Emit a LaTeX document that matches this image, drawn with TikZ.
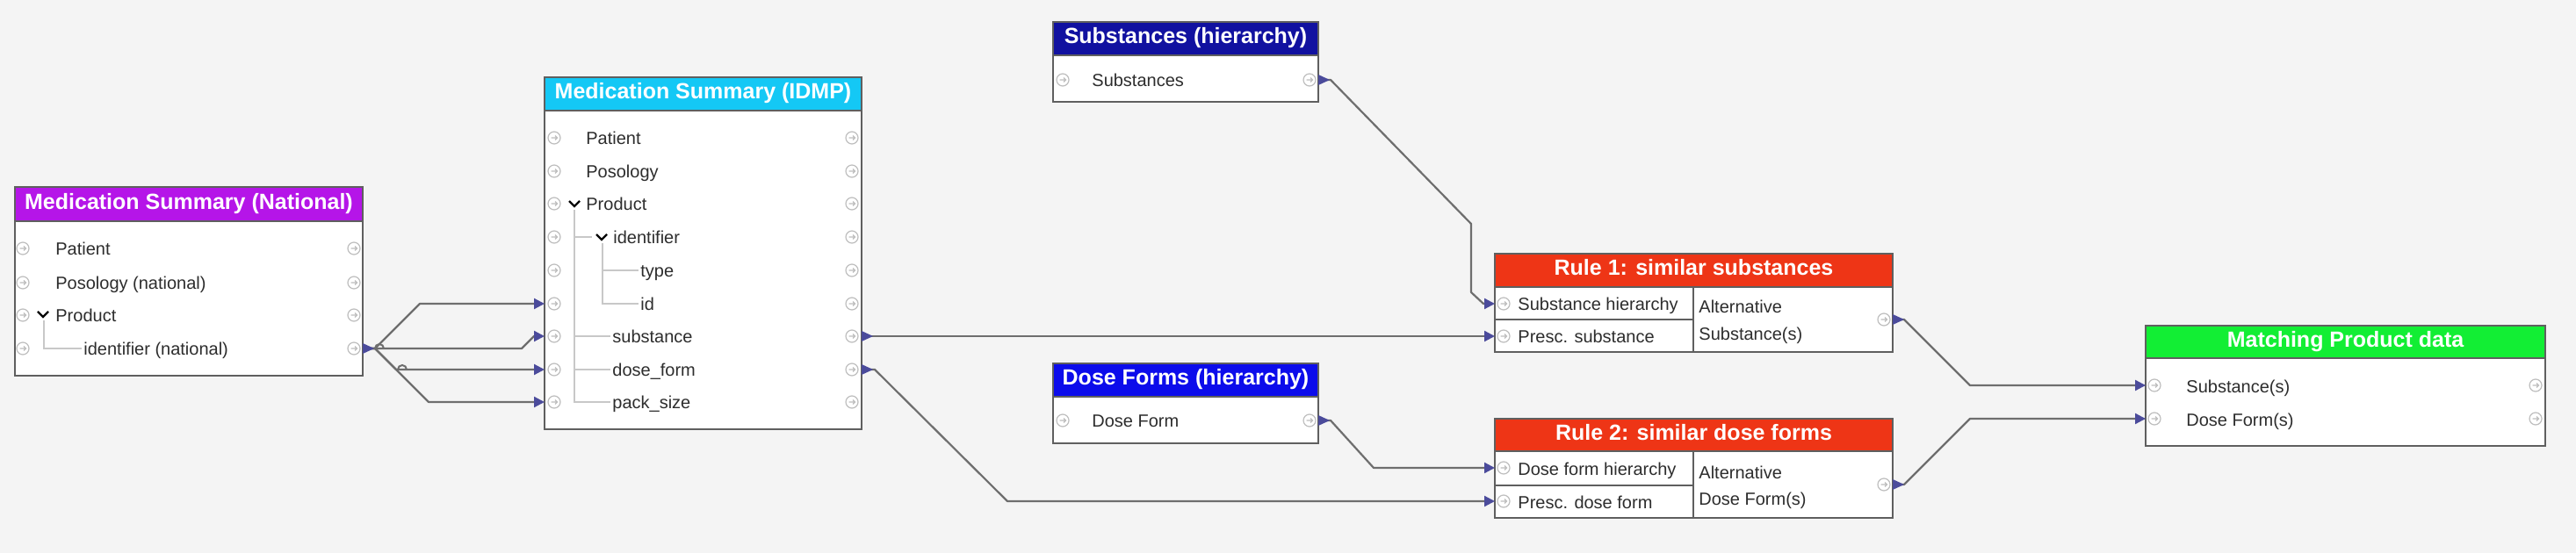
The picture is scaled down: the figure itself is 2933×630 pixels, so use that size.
\documentclass[tikz,border=0pt]{standalone}
\usepackage{fontspec}
\setmainfont{Liberation Sans}
\usetikzlibrary{arrows.meta,fit,calc}
\definecolor{bgc}{RGB}{244,244,244}
\definecolor{bordc}{RGB}{95,95,95}
\definecolor{natc}{RGB}{181,21,232}
\definecolor{idmpc}{RGB}{20,200,245}
\definecolor{substc}{RGB}{17,17,160}
\definecolor{dosec}{RGB}{12,12,235}
\definecolor{rulec}{RGB}{238,53,22}
\definecolor{matchc}{RGB}{18,238,52}
\definecolor{linec}{RGB}{110,110,110}
\definecolor{arrc}{RGB}{75,75,155}
\definecolor{pgray}{RGB}{190,190,190}
\definecolor{treec}{RGB}{200,200,200}
\definecolor{txtc}{RGB}{45,45,45}
\newcommand\mkrow[4]{\node[rowtxt] (#1) at (#2,#3+8) {#4};}
\newcommand\mkport[2]{\pic at (#1,#2) {portglyph};}
\newcommand\mkchev[2]{\draw[black, line width=1.1pt] (#1-6,#2-3) -- (#1,#2+3) -- (#1+6,#2-3);}
\newcommand\mkhead[4]{\node[headbox, fill=#2, fit={#3}] (#1) {};
  \node[headtxt] (#1T) at (#1.center) {#4};}
\begin{document}
\begin{tikzpicture}[x=0.5pt,y=-0.5pt,
  box/.style={draw=bordc, line width=1pt, fill=white, inner sep=0pt},
  headbox/.style={draw=bordc, line width=1pt, inner sep=0pt},
  headtxt/.style={anchor=center, inner sep=0pt, text=white, text height=9pt, text depth=2.5pt, yshift=0.3pt, font=\fontsize{12.5}{14}\selectfont\bfseries},
  rowtxt/.style={anchor=base west, inner sep=0pt, text=txtc, font=\fontsize{10}{12}\selectfont},
  bord/.style={draw=bordc, line width=1pt},
  tree/.style={draw=treec, line width=0.6pt},
  conn/.style={draw=linec, line width=1.1pt, line join=round, -{Triangle[length=6pt,width=6pt,color=arrc,fill=arrc]}},
  hop/.style={draw=linec, line width=1pt},
  portglyph/.pic={\draw[pgray, line width=0.6pt, fill=white] (0,0) circle[radius=3.5pt];
                  \draw[pgray, line width=0.6pt] (-3.5,0) -- (3.5,0) (1,-2.5) -- (3.5,0) -- (1,2.5);},
  srctri/.pic={\fill[arrc] (0,-6) -- (13,0) -- (0,6) -- cycle;}
]
\useasboundingbox (0,0) rectangle (2933,630);
\fill[bgc] (0,0) rectangle (2933,630);

% ---------- Medication Summary (National)
\node[box, fit={(17,213) (413,428)}] (nat) {};
\mkhead{natH}{natc}{(17,213) (413,252)}{Medication Summary (National)}
\mkrow{natR1}{63}{283}{Patient}
\mkrow{natR2}{63}{322}{Posology (national)}
\mkrow{natR3}{63}{359}{Product}
\mkrow{natR4}{95}{397}{identifier (national)}
\mkchev{49}{358}
\draw[tree] (50,365) -- (50,397) -- (93,397);
\foreach \yy in {283,322,359,397} {\mkport{26}{\yy}\mkport{403}{\yy}}

% ---------- Medication Summary (IDMP)
\node[box, fit={(620,88) (981,489)}] (idmp) {};
\mkhead{idmpH}{idmpc}{(620,88) (981,126)}{Medication Summary (IDMP)}
\mkrow{idmpR1}{667}{157}{Patient}
\mkrow{idmpR2}{667}{195}{Posology}
\mkrow{idmpR3}{667}{232}{Product}
\mkrow{idmpR4}{698}{270}{identifier}
\mkrow{idmpR5}{729}{308}{type}
\mkrow{idmpR6}{729}{346}{id}
\mkrow{idmpR7}{697}{383}{substance}
\mkrow{idmpR8}{697}{421}{dose\_form}
\mkrow{idmpR9}{697}{458}{pack\_size}
\mkchev{654}{232}
\mkchev{685}{270}
\draw[tree] (654,239) -- (654,458) -- (695,458) (654,383) -- (695,383) (654,421) -- (695,421) (654,270) -- (674,270);
\draw[tree] (686,277) -- (686,346) -- (727,346) (686,308) -- (727,308);
\foreach \yy in {157,195,232,270,308,346,383,421,458} {\mkport{631}{\yy}\mkport{970}{\yy}}

% ---------- Substances (hierarchy)
\node[box, fit={(1199,25) (1501,116)}] (subst) {};
\mkhead{substH}{substc}{(1199,25) (1501,63)}{Substances (hierarchy)}
\mkrow{substR1}{1243}{91}{Substances}
\mkport{1210}{91}\mkport{1491}{91}

% ---------- Dose Forms (hierarchy)
\node[box, fit={(1199,414) (1501,505)}] (dose) {};
\mkhead{doseH}{dosec}{(1199,414) (1501,452)}{Dose Forms (hierarchy)}
\mkrow{doseR1}{1243}{479}{Dose Form}
\mkport{1210}{479}\mkport{1491}{479}

% ---------- Rule 1
\node[box, fit={(1702,289) (2155,401)}] (r1) {};
\mkhead{r1H}{rulec}{(1702,289) (2155,327)}{Rule 1: similar substances}
\draw[bord] (1928,327) -- (1928,401) (1702,364) -- (1928,364);
\mkrow{r1R1}{1728}{346}{Substance hierarchy}
\mkrow{r1R2}{1728}{383}{Presc. substance}
\mkrow{r1O1}{1934}{349}{Alternative}
\mkrow{r1O2}{1934}{380}{Substance(s)}
\mkport{1712}{346}\mkport{1712}{383}\mkport{2145}{364}

% ---------- Rule 2
\node[box, fit={(1702,477) (2155,590)}] (r2) {};
\mkhead{r2H}{rulec}{(1702,477) (2155,514)}{Rule 2: similar dose forms}
\draw[bord] (1928,514) -- (1928,590) (1702,553) -- (1928,553);
\mkrow{r2R1}{1728}{533}{Dose form hierarchy}
\mkrow{r2R2}{1728}{571}{Presc. dose form}
\mkrow{r2O1}{1934}{537}{Alternative}
\mkrow{r2O2}{1934}{567}{Dose Form(s)}
\mkport{1712}{533}\mkport{1712}{571}\mkport{2145}{552}

% ---------- Matching Product data
\node[box, fit={(2443,371) (2898,508)}] (match) {};
\mkhead{matchH}{matchc}{(2443,371) (2898,408)}{Matching Product data}
\mkrow{matchR1}{2489}{439}{Substance(s)}
\mkrow{matchR2}{2489}{477}{Dose Form(s)}
\mkport{2453}{439}\mkport{2453}{477}\mkport{2887}{439}\mkport{2887}{477}

% ---------- ports for connectors
\coordinate (natIdOut) at (413,397);
\coordinate (idmpIdIn) at (620,346);
\coordinate (idmpSubIn) at (620,383);
\coordinate (idmpDfIn) at (620,421);
\coordinate (idmpPsIn) at (620,458);
\coordinate (idmpSubOut) at (981,383);
\coordinate (idmpDfOut) at (981,421);
\coordinate (substOut) at (1501,91);
\coordinate (doseOut) at (1501,479);
\coordinate (r1In1) at (1702,346);
\coordinate (r1In2) at (1702,383);
\coordinate (r1Out) at (2155,364);
\coordinate (r2In1) at (1702,533);
\coordinate (r2In2) at (1702,571);
\coordinate (r2Out) at (2155,552);
\coordinate (mIn1) at (2443,439);
\coordinate (mIn2) at (2443,477);

% ---------- connectors
\draw[conn] (natIdOut) -- ++(14,0) -- (478,346) -- (idmpIdIn);
\draw[conn] (natIdOut) -- (594,397) -- (608,383) -- (idmpSubIn);
\draw[conn] (natIdOut) -- ++(14,0) -- (451,421) -- (idmpDfIn);
\draw[conn] (natIdOut) -- ++(14,0) -- (488,458) -- (idmpPsIn);
\draw[hop] (427,397) arc[start angle=180, end angle=0, radius=2.5pt];
\draw[hop] (453,421) arc[start angle=180, end angle=0, radius=2.5pt];
\draw[conn] (idmpSubOut) -- (r1In2);
\draw[conn] (idmpDfOut) -- ++(15,0) -- (1147,571) -- (r2In2);
\draw[conn] (substOut) -- ++(14,0) -- (1675,255) -- (1675,333) -- (1689,346) -- (r1In1);
\draw[conn] (doseOut) -- ++(14,0) -- (1564,533) -- (r2In1);
\draw[conn] (r1Out) -- ++(13,0) -- (2243,439) -- (mIn1);
\draw[conn] (r2Out) -- ++(13,0) -- (2243,477) -- (mIn2);
\foreach \p in {natIdOut,idmpSubOut,idmpDfOut,substOut,doseOut,r1Out,r2Out} {\pic at (\p) {srctri};}
\end{tikzpicture}
\end{document}
